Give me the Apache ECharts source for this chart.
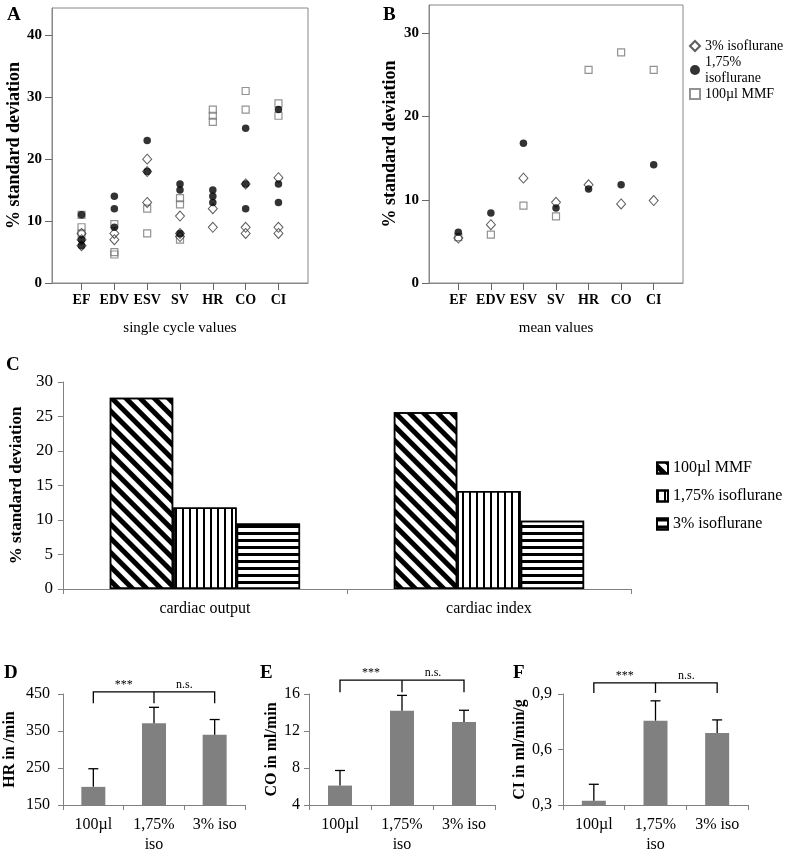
<!DOCTYPE html>
<html><head><meta charset="utf-8">
<script src="https://cdn.jsdelivr.net/npm/echarts@6/dist/echarts.min.js"></script>
<style>html,body{margin:0;padding:0;background:#fff}#c{width:788px;height:855px}</style>
</head><body><div id="c"></div>
<script>
// ---------- data ----------
const params = ['EF','EDV','ESV','SV','HR','CO','CI'];
const paramIdx = [0,1,2,3,4,5,6];
// Panel A: single cycle values, [parameter index, % SD]
const singleIso3   = [[0,8],[0,7],[0,6],[1,8],[1,7],[2,20],[2,18],[2,13],[3,10.8],[3,8],[3,7.5],[4,12],[4,9],[5,16],[5,9],[5,8],[6,17],[6,9],[6,8]];
const singleIso175 = [[0,11],[0,7],[0,6],[1,14],[1,12],[1,9],[2,23],[2,18],[3,16],[3,15],[3,8],[4,15],[4,14],[4,13],[5,25],[5,16],[5,12],[6,28],[6,16],[6,13]];
const singleMMF    = [[0,11],[0,9],[0,8],[1,9.5],[1,5],[1,4.6],[2,12],[2,8],[3,13.7],[3,12.7],[3,7],[4,28],[4,27],[4,26],[5,31],[5,28],[6,29],[6,27]];
// Panel B: mean values
const meanIso3   = [5.4, 7.0, 12.6, 9.7, 11.8, 9.5, 9.9];
const meanIso175 = [6.1, 8.4, 16.8, 9.0, 11.3, 11.8, 14.2];
const meanMMF    = [5.5, 5.8, 9.3, 8.0, 25.6, 27.7, 25.6];
const aTicks = [0,10,20,30,40];
const bTicks = [0,10,20,30];
// Panel C
const cCats = ['cardiac output','cardiac index'];
const cMMF = [27.7, 25.6];
const c175 = [11.8, 14.2];
const c3   = [9.5, 9.9];
// Panels D-F
const groups = ['100µl', '1,75%\niso', '3% iso'];
const hrMean = [199, 371, 340];
const hrUpper = [248, 414, 381];
const coMean = [6.1, 14.2, 12.96];
const coUpper = [7.73, 15.85, 14.24];
const ciMean = [0.323, 0.756, 0.689];
const ciUpper = [0.412, 0.863, 0.76];
const hrTicks = [150, 250, 350, 450];
const hrBracket = [425, 456];
const coBracket = [16.2, 17.5];
const ciBracket = [0.906, 0.96];
const sigLabels = ['***', 'n.s.'];
const legendB = {B_iso3:'3% isoflurane', B_iso175:'1,75%\nisoflurane', B_mmf:'100µl MMF'};
const legendC = {C_mmf:'100µl MMF', C_175:'1,75% isoflurane', C_3:'3% isoflurane'};

// ---------- styles ----------
const FONT = '"Liberation Serif", "Times New Roman", serif';
const GRAY = '#808080';
const chart = echarts.init(document.getElementById('c'), null, {renderer:'canvas'});

function scatterX(gi) {
  return {gridIndex:gi, type:'value', min:-0.9, max:6.9,
    axisLine:{show:true, onZero:false, lineStyle:{color:'#888'}},
    axisTick:{show:true, customValues:paramIdx, length:7, lineStyle:{color:'#666'}},
    axisLabel:{customValues:paramIdx, formatter:v=>params[Math.round(v)], margin:10,
      fontFamily:FONT, fontWeight:'bold', fontSize:14, color:'#000'},
    splitLine:{show:false},
    name: gi===0 ? 'single cycle values' : 'mean values', nameLocation:'middle', nameGap:38,
    nameTextStyle:{fontFamily:FONT, fontSize:15, color:'#000'}};
}
function scatterY(gi, max, ticks, gap) {
  return {gridIndex:gi, type:'value', min:0, max:max,
    axisLine:{show:true, onZero:false, lineStyle:{color:'#888'}},
    axisTick:{show:true, customValues:ticks, length:7, lineStyle:{color:'#666'}},
    axisLabel:{customValues:ticks, margin:10, fontFamily:FONT, fontWeight:'bold', fontSize:15, color:'#000'},
    splitLine:{show:false},
    name:'% standard deviation', nameLocation:'middle', nameRotate:90, nameGap:gap,
    nameTextStyle:{fontFamily:FONT, fontWeight:'bold', fontSize:18, color:'#000'}};
}
function barX(gi, data) {
  return {gridIndex:gi, type:'category', data:data,
    axisLine:{show:true, onZero:false, lineStyle:{color:GRAY}},
    axisTick:{show:true, length:5, lineStyle:{color:GRAY}},
    axisLabel:{margin:10, fontFamily:FONT, fontSize:16, lineHeight:20, color:'#000'}};
}
function barY(gi, min, max, extra, name, gap) {
  return Object.assign({gridIndex:gi, type:'value', min:min, max:max,
    axisLine:{show:true, onZero:false, lineStyle:{color:GRAY}},
    axisTick:{show:true, length:5, lineStyle:{color:GRAY}},
    splitLine:{show:false},
    name:name, nameLocation:'middle', nameRotate:90, nameGap:gap,
    nameTextStyle:{fontFamily:FONT, fontWeight:'bold', fontSize:16, color:'#000'}}, extra);
}
const diamondStyle = {color:'rgba(255,255,255,0)', borderColor:'#333', borderWidth:1};
const squareStyle = {color:'rgba(255,255,255,0)', borderColor:'#777', borderWidth:1.2};
const circleStyle = {color:'#000'};

function errRender(p, api) {
  const x = api.value(0), m = api.value(1), u = api.value(2);
  const a = api.coord([x, m]), b = api.coord([x, u]);
  const st = {stroke:'#000', lineWidth:1.3};
  return {type:'group', children:[
    {type:'line', shape:{x1:a[0], y1:a[1], x2:b[0], y2:b[1]}, style:st},
    {type:'line', shape:{x1:b[0]-5, y1:b[1], x2:b[0]+5, y2:b[1]}, style:st}
  ]};
}
function bracketRender(p, api) {
  const lo = api.value(1), hi = api.value(2);
  const l0 = api.coord([0, lo]), h0 = api.coord([0, hi]);
  const l1 = api.coord([1, lo]), h1 = api.coord([1, hi]);
  const l2 = api.coord([2, lo]), h2 = api.coord([2, hi]);
  const st = {stroke:'#000', lineWidth:1.3, fill:null};
  const tf = '12px ' + FONT;
  return {type:'group', children:[
    {type:'polyline', shape:{points:[l0, h0, h2, l2]}, style:st},
    {type:'line', shape:{x1:h1[0], y1:h1[1], x2:l1[0], y2:l1[1]}, style:st},
    {type:'text', style:{text:sigLabels[0], x:(h0[0]+h1[0])/2, y:h0[1]-1, align:'center', verticalAlign:'bottom', font:tf, fill:'#000'}},
    {type:'text', style:{text:sigLabels[1], x:(h1[0]+h2[0])/2, y:h0[1]-1, align:'center', verticalAlign:'bottom', font:tf, fill:'#000'}}
  ]};
}
const idx3 = [0,1,2];
const errData = (mean, upper) => idx3.map(i => [i, mean[i], upper[i]]);

const letter = (t, l, tp) => ({text:t, left:l, top:tp, padding:0,
  textStyle:{fontFamily:FONT, fontWeight:'bold', fontSize:19, color:'#000'}});

const option = {
  animation:false,
  backgroundColor:'#fff',
  title:[letter('A',7,6), letter('B',383,6), letter('C',6,356), letter('D',4,664), letter('E',260,664), letter('F',513,664)],
  legend:[
    {orient:'vertical', left:689, top:38, padding:0, itemWidth:10, itemHeight:10, itemGap:0,
     data:['B_iso3','B_iso175','B_mmf'], formatter:n=>legendB[n], selectedMode:false,
     textStyle:{fontFamily:FONT, fontSize:14, lineHeight:16, color:'#000'}},
    {orient:'vertical', left:656, top:459, padding:0, itemWidth:11, itemHeight:11, itemGap:10, icon:'rect',
     data:['C_mmf','C_175','C_3'], formatter:n=>legendC[n], selectedMode:false,
     textStyle:{fontFamily:FONT, fontSize:16, lineHeight:18, color:'#000'}}
  ],
  grid:[
    {left:52, top:8, width:256, height:275, show:true, borderColor:'#888', borderWidth:1, backgroundColor:'transparent'},
    {left:429, top:5, width:254, height:278, show:true, borderColor:'#888', borderWidth:1, backgroundColor:'transparent'},
    {left:59, top:382, width:572, height:207},
    {left:63, top:694, width:182, height:113},
    {left:309, top:694, width:186, height:113},
    {left:563, top:694, width:185, height:113}
  ],
  xAxis:[
    scatterX(0), scatterX(1),
    barX(2, cCats),
    barX(3, groups), barX(4, groups), barX(5, groups)
  ],
  yAxis:[
    scatterY(0, 44.4, aTicks, 28),
    scatterY(1, 33.4, bTicks, 30),
    barY(2, 0, 30, {interval:5, axisLabel:{margin:10, fontFamily:FONT, fontSize:17, color:'#000'},
      nameTextStyle:{fontFamily:FONT, fontWeight:'bold', fontSize:17, color:'#000'}}, '% standard deviation', 36),
    barY(3, 150, 450, {axisLabel:{customValues:hrTicks, margin:13, fontFamily:FONT, fontSize:16, color:'#000'},
      axisTick:{show:true, customValues:hrTicks, length:5, lineStyle:{color:GRAY}}}, 'HR in /min', 45),
    barY(4, 4, 16, {interval:4, axisLabel:{margin:9, fontFamily:FONT, fontSize:16, color:'#000'}}, 'CO in ml/min', 29),
    barY(5, 0.3, 0.9, {interval:0.3, axisLabel:{margin:11, fontFamily:FONT, fontSize:16, color:'#000',
      formatter:v=>v.toFixed(1).replace('.', ',')}}, 'CI in ml/min/g', 34)
  ],
  series:[
    // Panel A
    {type:'scatter', name:'A_mmf', xAxisIndex:0, yAxisIndex:0, data:singleMMF, symbol:'rect', symbolSize:7, itemStyle:squareStyle, z:2},
    {type:'scatter', name:'A_iso3', xAxisIndex:0, yAxisIndex:0, data:singleIso3, symbol:'diamond', symbolSize:[9,10], itemStyle:diamondStyle, z:3},
    {type:'scatter', name:'A_iso175', xAxisIndex:0, yAxisIndex:0, data:singleIso175, symbol:'circle', symbolSize:7.5, itemStyle:circleStyle, z:4},
    // Panel B
    {type:'scatter', name:'B_mmf', xAxisIndex:1, yAxisIndex:1, data:meanMMF.map((v,i)=>[i,v]), symbol:'rect', symbolSize:7, itemStyle:squareStyle, z:2},
    {type:'scatter', name:'B_iso3', xAxisIndex:1, yAxisIndex:1, data:meanIso3.map((v,i)=>[i,v]), symbol:'diamond', symbolSize:[9,10], itemStyle:diamondStyle, z:3},
    {type:'scatter', name:'B_iso175', xAxisIndex:1, yAxisIndex:1, data:meanIso175.map((v,i)=>[i,v]), symbol:'circle', symbolSize:7.5, itemStyle:circleStyle, z:4},
    // Panel C
    {type:'bar', name:'C_mmf', xAxisIndex:2, yAxisIndex:2, data:cMMF, barGap:'0%', barCategoryGap:'33%',
     itemStyle:{color:'#fff', borderColor:'#000', borderWidth:1.5,
       decal:{symbol:'rect', symbolSize:1, dashArrayX:[1,0], dashArrayY:[5,5], rotation:Math.PI/4, color:'#000'}}},
    {type:'bar', name:'C_175', xAxisIndex:2, yAxisIndex:2, data:c175, barGap:'0%', barCategoryGap:'33%',
     itemStyle:{color:'#fff', borderColor:'#000', borderWidth:1.5,
       decal:{symbol:'rect', symbolSize:1, dashArrayX:[1.8,4.6], dashArrayY:[1,0], color:'#000'}}},
    {type:'bar', name:'C_3', xAxisIndex:2, yAxisIndex:2, data:c3, barGap:'0%', barCategoryGap:'33%',
     itemStyle:{color:'#fff', borderColor:'#000', borderWidth:1.5,
       decal:{symbol:'rect', symbolSize:1, dashArrayX:[1,0], dashArrayY:[3,3.2], color:'#000'}}},
    // Panel D
    {type:'bar', xAxisIndex:3, yAxisIndex:3, data:hrMean, barWidth:24, itemStyle:{color:GRAY}},
    {type:'custom', xAxisIndex:3, yAxisIndex:3, data:errData(hrMean, hrUpper), encode:{x:0, y:[1,2]}, renderItem:errRender, z:5},
    {type:'custom', xAxisIndex:3, yAxisIndex:3, data:[[1, hrBracket[0], hrBracket[1]]], encode:{x:0, y:[1,2]}, renderItem:bracketRender, clip:false, z:5},
    // Panel E
    {type:'bar', xAxisIndex:4, yAxisIndex:4, data:coMean, barWidth:24, itemStyle:{color:GRAY}},
    {type:'custom', xAxisIndex:4, yAxisIndex:4, data:errData(coMean, coUpper), encode:{x:0, y:[1,2]}, renderItem:errRender, z:5},
    {type:'custom', xAxisIndex:4, yAxisIndex:4, data:[[1, coBracket[0], coBracket[1]]], encode:{x:0, y:[1,2]}, renderItem:bracketRender, clip:false, z:5},
    // Panel F
    {type:'bar', xAxisIndex:5, yAxisIndex:5, data:ciMean, barWidth:24, itemStyle:{color:GRAY}},
    {type:'custom', xAxisIndex:5, yAxisIndex:5, data:errData(ciMean, ciUpper), encode:{x:0, y:[1,2]}, renderItem:errRender, z:5},
    {type:'custom', xAxisIndex:5, yAxisIndex:5, data:[[1, ciBracket[0], ciBracket[1]]], encode:{x:0, y:[1,2]}, renderItem:bracketRender, clip:false, z:5}
  ]
};
chart.setOption(option);
</script>
</body></html>
